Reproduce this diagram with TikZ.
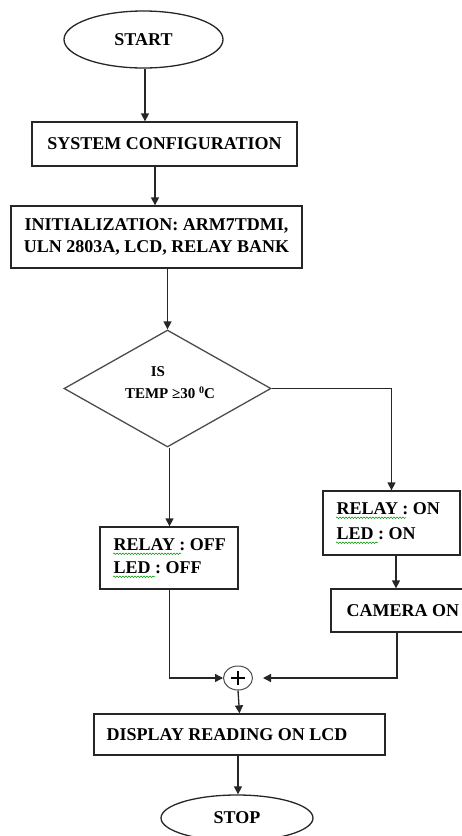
\documentclass[tikz,border=0pt]{standalone}
\usepackage{fontspec}
\setmainfont{Liberation Serif}
\usetikzlibrary{shapes.geometric,arrows.meta,decorations.pathmorphing}
\begin{document}
\begin{tikzpicture}[x=1pt,y=1pt,
  line width=1.3pt,
  arr/.style={-{Triangle[length=8pt,width=8pt]}, draw=black!85},
  box/.style={draw=black!85, rectangle, inner sep=0pt, font=\fontsize{18}{22}\selectfont\bfseries},
  term/.style={draw=black!85, ellipse, inner sep=0pt, font=\fontsize{18}{22}\selectfont\bfseries},
  txt/.style={inner sep=0pt, font=\fontsize{18}{22}\selectfont\bfseries, anchor=west},
  dtxt/.style={inner sep=0pt, font=\fontsize{15}{18}\selectfont\bfseries},
  squig/.style={draw=green!60!black, line width=0.5pt, decorate, decoration={snake, amplitude=0.8pt, segment length=3pt}}
]
\useasboundingbox (0,0) rectangle (461,-836);

\node[term, minimum width=159pt, minimum height=57pt] (start) at (143.5,-39.5) {START};
\node[box, minimum width=265pt, minimum height=44pt] (sys) at (164.5,-144) {SYSTEM CONFIGURATION};
\node[box, minimum width=291pt, minimum height=62pt, align=center] (init) at (156.5,-237)
  {INITIALIZATION: ARM7TDMI,\\ULN 2803A, LCD, RELAY BANK};
\node[diamond, draw=black!70, inner sep=0pt, minimum width=207pt, minimum height=117pt] (dia) at (167.5,-388.5) {};
\node[dtxt] (is) at (158,-372) {IS};
\node[dtxt] (temp) at (170,-393) {TEMP ≥30 {\fontsize{10}{10}\selectfont\raisebox{5pt}{0}}C};

\node[box, minimum width=137pt, minimum height=64pt] (relon) at (391.5,-523) {};
\node[txt] (relonA) at (336,-509) {RELAY : ON};
\node[txt] (relonB) at (336,-534) {LED : ON};
\node[box, minimum width=140pt, minimum height=43pt] (cam) at (401,-610.5) {};
\node[txt] (camt) at (346,-610.5) {CAMERA ON};

\node[box, minimum width=138pt, minimum height=62pt] (reloff) at (169,-558) {};
\node[txt] (reloffA) at (113,-545) {RELAY : OFF};
\node[txt] (reloffB) at (113,-568) {LED : OFF};

\node[draw=black!70, ellipse, line width=1pt, minimum width=29pt, minimum height=24pt, inner sep=0pt] (sum) at (238,-678) {};
\draw[line width=1.4pt, draw=black] (231,-678) -- (245,-678) (238,-671) -- (238,-685);

\node[box, minimum width=291pt, minimum height=41pt] (disp) at (239.5,-734.5) {};
\node[txt] (dispt) at (106,-734.5) {DISPLAY READING ON LCD};

\node[term, minimum width=152pt, minimum height=46pt] (stop) at (237,-818) {STOP};

% squiggles
\draw[squig] (relonA.south west) ++(0,-2) -- ++(70,0);
\draw[squig] (relonB.south west) ++(0,-2) -- ++(42,0);
\draw[squig] (reloffA.south west) ++(0,-2) -- ++(68,0);
\draw[squig] (reloffB.south west) ++(0,-2) -- ++(42,0);

% connectors
\coordinate (a1) at ([xshift=1.5pt]start.south);
\draw[arr] (a1) -- (a1 |- sys.north);
\coordinate (a2) at ([xshift=-9.5pt]sys.south);
\draw[arr] (a2) -- (a2 |- init.north);
\draw[arr] (init.south -| dia.north) -- (dia.north);
\draw[arr] (dia.east) -| (relon.north);
\coordinate (a3) at ([xshift=2pt]dia.south);
\draw[arr] (a3) -- (a3 |- reloff.north);
\coordinate (a4) at ([xshift=4.5pt]relon.south);
\draw[arr] (a4) -- (a4 |- cam.north);
\coordinate (a5) at (a3 |- reloff.south);
\draw[arr] (a5) |- (sum.west);
\coordinate (a6) at ([xshift=-4pt]cam.south);
\coordinate (a7) at ([xshift=10pt]sum.east);
\draw[arr] (a6) |- (a7);
\draw[arr] (sum.south) -- (disp.north);
\coordinate (a8) at ([xshift=-1.5pt]disp.south);
\draw[arr] (a8) -- (a8 |- stop.north);
\end{tikzpicture}
\end{document}
